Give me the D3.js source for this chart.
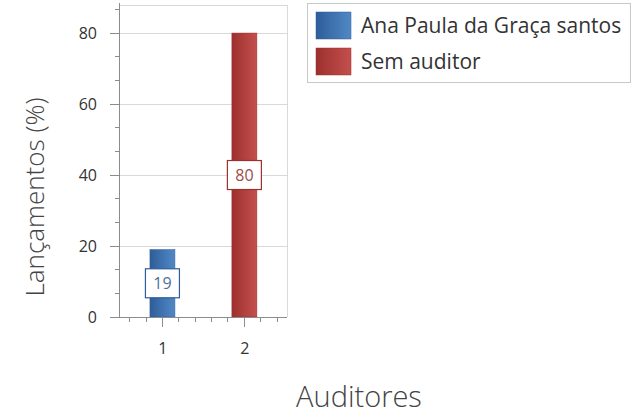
<!DOCTYPE html>
<html>
<head>
<meta charset="utf-8">
<script src="https://cdn.jsdelivr.net/npm/d3@7"></script>
<style>
  html, body { margin: 0; padding: 0; background: #fff; }
  svg { display: block; font-family: "Open Sans", "DejaVu Sans", sans-serif; }
</style>
</head>
<body>
<svg id="chart" width="632" height="417"></svg>
<script>
const categories = [1, 2];
const seriesNames = ["Ana Paula da Graça santos", "Sem auditor"];
const seriesValues = [19, 80];
const yTicks = [0, 20, 40, 60, 80];
const xTicks = [1, 2];
const yTitle = "Lançamentos (%)";
const xTitle = "Auditores";

const colorsDark = ["#2e5d99", "#9c302e"];
const colorsLight = ["#5089c6", "#c4504d"];
const labelText = ["#4d6f9c", "#a04a48"];

const svg = d3.select("#chart");
const pLeft = 119, pRight = 287, pTop = 5, pBottom = 317;

const x = d3.scaleLinear().domain([0.47, 2.52]).range([pLeft, pRight]);
const y = d3.scaleLinear().domain([0, 87.9]).range([pBottom, pTop]);

const defs = svg.append("defs");
seriesNames.forEach((n, i) => {
  const g = defs.append("linearGradient").attr("id", "grad" + i)
    .attr("x1", "0%").attr("x2", "100%").attr("y1", "0%").attr("y2", "0%");
  g.append("stop").attr("offset", "0%").attr("stop-color", colorsDark[i]);
  g.append("stop").attr("offset", "100%").attr("stop-color", colorsLight[i]);
});

// gridlines
svg.append("g").selectAll("line").data(yTicks.filter(d => d > 0)).join("line")
  .attr("x1", pLeft).attr("x2", pRight)
  .attr("y1", d => y(d)).attr("y2", d => y(d))
  .attr("stroke", "#d9d9d9").attr("stroke-width", 1).attr("shape-rendering", "crispEdges");
// plot border top/right
svg.append("line").attr("x1", pLeft).attr("x2", pRight).attr("y1", pTop).attr("y2", pTop)
  .attr("stroke", "#d9d9d9").attr("shape-rendering", "crispEdges");
svg.append("line").attr("x1", pRight).attr("x2", pRight).attr("y1", pTop).attr("y2", pBottom)
  .attr("stroke", "#d9d9d9").attr("shape-rendering", "crispEdges");

// bars
const barW = 25;
categories.forEach((c, i) => {
  svg.append("rect")
    .attr("x", x(c) - barW / 2).attr("width", barW)
    .attr("y", y(seriesValues[i])).attr("height", y(0) - y(seriesValues[i]))
    .attr("fill", `url(#grad${i})`)
    .attr("stroke", colorsDark[i]).attr("stroke-width", 0.5);
});

// y axis
const yAxis = d3.axisLeft(y).tickValues(yTicks).tickSize(9).tickPadding(13);
const yG = svg.append("g").attr("transform", `translate(${pLeft},0)`).call(yAxis);
const yMinor = d3.range(0, 88, 20 / 3).filter(v => Math.abs(v / 20 - Math.round(v / 20)) > 0.01);
yG.selectAll(".minor").data(yMinor).join("line").attr("class", "minor")
  .attr("x1", -4).attr("x2", 0).attr("y1", d => y(d)).attr("y2", d => y(d))
  .attr("stroke", "#8c8c8c").attr("shape-rendering", "crispEdges");
yG.select(".domain").attr("d", `M0,${pTop - 2}V${pBottom}`);

// x axis
const xAxis = d3.axisBottom(x).tickValues(xTicks).tickSize(10).tickPadding(16).tickFormat(d3.format("d"));
const xG = svg.append("g").attr("transform", `translate(0,${pBottom})`).call(xAxis);
const xMinor = d3.range(0.6, 2.52, 0.2).filter(v => Math.abs(v - Math.round(v)) > 0.01);
xG.selectAll(".minor").data(xMinor).join("line").attr("class", "minor")
  .attr("x1", d => x(d)).attr("x2", d => x(d)).attr("y1", 0).attr("y2", 5)
  .attr("stroke", "#8c8c8c").attr("shape-rendering", "crispEdges");
xG.select(".domain").attr("d", `M${pLeft},0H${pRight}`);

[yG, xG].forEach(g => {
  g.selectAll(".domain").attr("stroke", "#8c8c8c").attr("shape-rendering", "crispEdges");
  g.selectAll(".tick line").attr("stroke", "#8c8c8c").attr("shape-rendering", "crispEdges");
  g.selectAll(".tick text").attr("fill", "#333").style("font-size", "16px")
    .style("font-family", '"Open Sans", sans-serif');
});

// value labels
categories.forEach((c, i) => {
  const cy = (y(0) + y(seriesValues[i])) / 2;
  const g = svg.append("g").attr("transform", `translate(${x(c)},${cy})`);
  g.append("rect").attr("x", -17).attr("y", -14.5).attr("width", 34).attr("height", 29)
    .attr("fill", "#fff").attr("stroke", colorsDark[i]).attr("stroke-width", 1.2);
  g.append("text").attr("text-anchor", "middle").attr("dy", "0.36em")
    .attr("fill", labelText[i]).style("font-size", "16px").text(seriesValues[i]);
});

// axis titles
svg.append("text").attr("transform", `translate(44,197) rotate(-90)`)
  .attr("text-anchor", "middle").attr("fill", "#444").style("font-size", "26px")
  .style("font-weight", 300).text(yTitle);
svg.append("text").attr("x", 359).attr("y", 407).attr("text-anchor", "middle")
  .attr("fill", "#444").style("font-size", "29px").style("font-weight", 300).text(xTitle);

// legend
const lg = svg.append("g");
lg.append("rect").attr("x", 307.5).attr("y", 3.5).attr("width", 323).attr("height", 79)
  .attr("fill", "#fff").attr("stroke", "#c8c8c8");
seriesNames.forEach((n, i) => {
  const yy = 12 + i * 36;
  lg.append("rect").attr("x", 316).attr("y", yy).attr("width", 35).attr("height", 27)
    .attr("fill", `url(#grad${i})`).attr("stroke", colorsDark[i]).attr("stroke-width", 0.5);
  lg.append("text").attr("x", 361).attr("y", yy + 13.5).attr("dy", "0.35em")
    .attr("fill", "#333").style("font-size", "21px").text(n);
});
</script>
</body>
</html>
